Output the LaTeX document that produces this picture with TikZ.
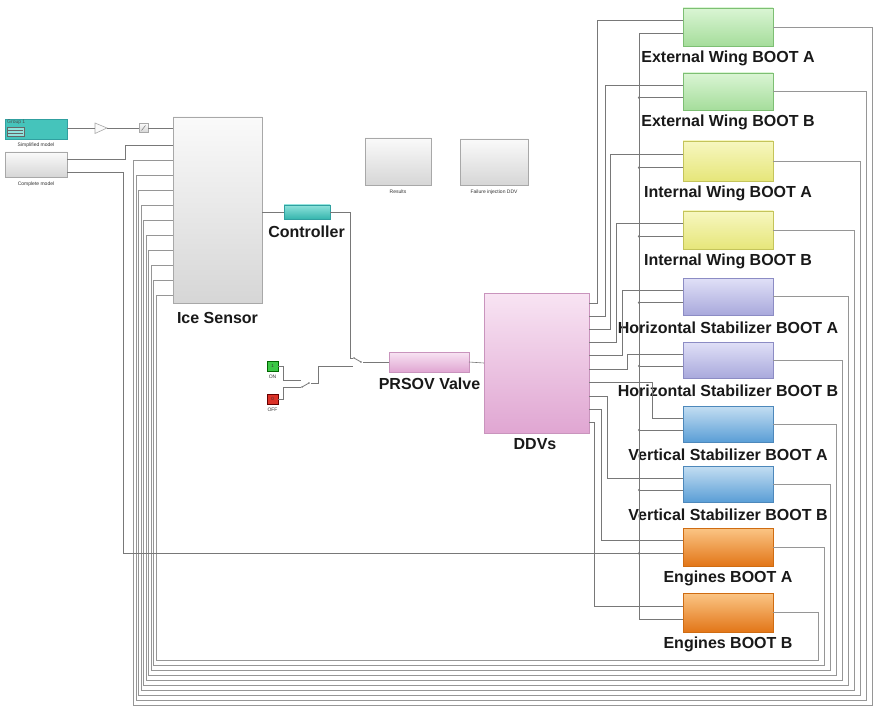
\documentclass[tikz,border=0pt]{standalone}
\usepackage{fontspec}
\setmainfont{Liberation Sans}
\usetikzlibrary{calc,shadings}

% block fills
\definecolor{wirecol}{RGB}{120,120,120}
\definecolor{fbcol}{RGB}{150,150,150}
\definecolor{grayT}{RGB}{250,250,250}\definecolor{grayB}{RGB}{214,214,214}\definecolor{grayD}{RGB}{168,168,168}
\definecolor{greenT}{RGB}{218,245,212}\definecolor{greenB}{RGB}{165,221,155}\definecolor{greenD}{RGB}{125,191,115}
\definecolor{yelT}{RGB}{247,247,192}\definecolor{yelB}{RGB}{230,230,122}\definecolor{yelD}{RGB}{196,196,90}
\definecolor{lavT}{RGB}{224,224,247}\definecolor{lavB}{RGB}{169,169,220}\definecolor{lavD}{RGB}{140,140,196}
\definecolor{bluT}{RGB}{196,222,242}\definecolor{bluB}{RGB}{90,158,214}\definecolor{bluD}{RGB}{77,136,187}
\definecolor{orT}{RGB}{251,197,133}\definecolor{orB}{RGB}{226,118,24}\definecolor{orD}{RGB}{207,108,18}
\definecolor{pinkT}{RGB}{248,228,243}\definecolor{pinkB}{RGB}{224,166,210}\definecolor{pinkD}{RGB}{201,148,189}
\definecolor{tealT}{RGB}{143,227,220}\definecolor{tealB}{RGB}{53,181,173}\definecolor{tealD}{RGB}{48,160,160}
\definecolor{tealF}{RGB}{69,196,187}
\definecolor{onG}{RGB}{60,200,70}\definecolor{offR}{RGB}{220,50,40}

\newcommand{\bbox}[6][]{%
  \node[blk,#1,anchor=north west,minimum width={#4-#2},minimum height={#5-#3}] (#6) at (#2,#3) {};}

\begin{document}
\begin{tikzpicture}[x=1pt,y=-1pt,
  blk/.style={draw,line width=0.6pt,inner sep=0pt,outer sep=0pt},
  bgray/.style={top color=grayT,bottom color=grayB,draw=grayD},
  bgreen/.style={top color=greenT,bottom color=greenB,draw=greenD},
  byellow/.style={top color=yelT,bottom color=yelB,draw=yelD},
  blav/.style={top color=lavT,bottom color=lavB,draw=lavD},
  bblue/.style={top color=bluT,bottom color=bluB,draw=bluD},
  borange/.style={top color=orT,bottom color=orB,draw=orD},
  bpink/.style={top color=pinkT,bottom color=pinkB,draw=pinkD},
  bteal/.style={top color=tealT,bottom color=tealB,draw=tealD},
  wire/.style={draw=wirecol,line width=0.6pt},
  fbwire/.style={draw=fbcol,line width=0.7pt},
  jdot/.style={circle,fill=wirecol,inner sep=0pt,minimum size=2.4pt},
  lbl/.style={font=\fontsize{16}{16}\selectfont\bfseries,text=black!90,inner sep=0pt},
  tiny/.style={font=\fontsize{5}{5}\selectfont,text=black!80,inner sep=0pt},
]
\useasboundingbox (0,0) rectangle (874,708);
\fill[white] (0,0) rectangle (874,708);

% ---------- source blocks ----------
\bbox[fill=tealF,draw=tealD]{5}{119}{67}{139}{sm}
\node[tiny,anchor=north west,text=black!70] (sm-name) at (7,120) {Group 1};
\draw[draw=black!60,fill=tealT,line width=0.3pt] (7,127) rectangle (24,136);
\draw[black!60,line width=0.3pt] (8,130) -- (23,130) (8,133) -- (23,133);
\node[tiny] (sm-lab) at (36,145.5) {Simplified model};
\coordinate (sm-out) at (67,128);

\bbox[bgray]{5}{152}{67}{177}{cm}
\node[tiny] (cm-lab) at (36,184) {Complete model};
\coordinate (cm-o1) at (67,159);
\coordinate (cm-o2) at (67,172);

% gain and slash block
\draw[draw=grayD,fill=grayT,line width=0.6pt] (95,123) -- (107,128) -- (95,133.5) -- cycle;
\coordinate (gain-in) at (95,128);
\coordinate (gain-out) at (107,128);
\node[blk,bgray,minimum width=9,minimum height=9] (sat) at (143.5,128) {};
\draw[black!55,line width=0.5pt] ($(sat.south west)+(2.5,-2)$) -- ($(sat.north east)+(-2.5,2)$);

% ---------- ice sensor / controller ----------
\bbox[bgray]{173}{117}{262}{303}{ice}
\node[lbl] (ice-lab) at (217.5,318) {Ice Sensor};
\coordinate (ice-in1) at (173,128);
\coordinate (ice-in2) at (173,145);
\coordinate (ice-out) at (262,212);

\bbox[bteal]{284}{205}{330}{219}{ctl}
\node[lbl] (ctl-lab) at (306.5,232) {Controller};

\bbox[bgray]{365}{138}{431}{185}{res}
\node[tiny] (res-lab) at (398,192) {Results};
\bbox[bgray]{460}{139}{528}{185}{fail}
\node[tiny] (fail-lab) at (494,192) {Failure injection DDV};

\draw[wire] (sm-out) -- (gain-in);
\draw[wire] (gain-out) -- (sat.west);
\draw[wire] (sat.east) -- (ice-in1);
\draw[wire] (cm-o1) -- ++(58,0) |- (ice-in2);
\draw[wire] (ice-out) -- (ctl.west);

% ---------- ON / OFF and manual switches ----------
\bbox[fill=onG,draw=green!40!black]{267}{361}{278}{371}{on}
\node[tiny,font=\fontsize{4.5}{4.5}\selectfont] (on-val) at (on.center) {1};
\node[tiny] (on-lab) at (272.5,376.5) {ON};
\bbox[fill=offR,draw=red!40!black]{267}{394}{278}{404}{off}
\node[tiny,font=\fontsize{4.5}{4.5}\selectfont] (off-val) at (off.center) {0};
\node[tiny] (off-lab) at (272.5,409.5) {OFF};

\coordinate (sw1-in1) at (301,380);
\coordinate (sw1-in2) at (301,387);
\coordinate (sw1-out) at (311,383);
\draw[wirecol,line width=0.8pt] (302,387) -- (309,383);
\fill[wirecol] (302,387) circle (0.9) (309,383) circle (0.9);
\draw[wire] (on.east) -- ++(5,0) |- (sw1-in1);
\draw[wire] (off.east) -- ++(5,0) |- (sw1-in2);

\coordinate (sw2-in1) at (353,358);
\coordinate (sw2-in2) at (353,366);
\coordinate (sw2-out) at (363,362);
\draw[wirecol,line width=0.8pt] (354,358) -- (361,362);
\fill[wirecol] (354,358) circle (0.9) (361,362) circle (0.9);
\draw[wire] (sw1-out) -- ++(7,0) |- (sw2-in2);
\draw[wire] (ctl.east) -- ++(20,0) |- (sw2-in1);

% ---------- valve and DDVs ----------
\bbox[bpink]{389}{352}{469}{372}{prs}
\node[lbl] (prs-lab) at (429.5,384) {PRSOV Valve};
\draw[wire] (sw2-out) -- (prs.west);

\bbox[bpink]{484}{293}{589}{433}{ddv}
\node[lbl] (ddv-lab) at (535,444) {DDVs};
\draw[wire] (prs.east) -- (ddv.west);
\foreach \i/\yy in {1/303,2/316,3/329,4/342,5/355,6/369,7/382,8/396,9/409,10/422}
  \coordinate (ddv-o\i) at (589,\yy);

% ---------- boots, with their returns to the ice sensor ----------
\foreach \nm/\ya/\yb/\sty/\txt [count=\k from 0] in {
  ewA/8/46/bgreen/External Wing BOOT A,
  ewB/73/110/bgreen/External Wing BOOT B,
  iwA/141/181/byellow/Internal Wing BOOT A,
  iwB/211/249/byellow/Internal Wing BOOT B,
  hsA/278/315/blav/Horizontal Stabilizer BOOT A,
  hsB/342/378/blav/Horizontal Stabilizer BOOT B,
  vsA/406/442/bblue/Vertical Stabilizer BOOT A,
  vsB/466/502/bblue/Vertical Stabilizer BOOT B,
  enA/528/566/borange/Engines BOOT A,
  enB/593/632/borange/Engines BOOT B}{
  \node[blk,\sty,anchor=north west,minimum width=90,minimum height={\yb-\ya}] (\nm) at (683,\ya) {};
  \node[lbl] (\nm-lab) at (728,\yb+12.5) {\txt};
  \coordinate (\nm-in1) at ($(\nm.north west)!1/3!(\nm.south west)$);
  \coordinate (\nm-in2) at ($(\nm.north west)!2/3!(\nm.south west)$);
  \coordinate (\nm-out) at (\nm.east);
  \pgfmathsetmacro\xr{872-6*\k}
  \pgfmathsetmacro\ybot{705-5*\k}
  \pgfmathsetmacro\xl{133.5+2.5*\k}
  \pgfmathsetmacro\yin{160+15*\k}
  \coordinate (ice-fb\k) at (173,\yin);
  \draw[fbwire] (\nm-out) -| (\xr,\ybot) -| (\xl,\yin) -- (ice-fb\k);
}

% DDV commands to the first input of each boot
\draw[wire] (ddv-o1) -- ++(8,0) |- (ewA-in1);
\draw[wire] (ddv-o2) -- ++(16,0) |- (ewB-in1);
\draw[wire] (ddv-o3) -- ++(21,0) |- (iwA-in1);
\draw[wire] (ddv-o4) -- ++(27,0) |- (iwB-in1);
\draw[wire] (ddv-o5) -- ++(33,0) |- (hsA-in1);
\draw[wire] (ddv-o6) -- ++(38,0) |- (hsB-in1);
\draw[wire] (ddv-o7) -- ++(63,0) |- (vsA-in1);
\draw[wire] (ddv-o8) -- ++(18,0) |- (vsB-in1);
\draw[wire] (ddv-o9) -- ++(12,0) |- (enA-in1);
\draw[wire] (ddv-o10) -- ++(5,0) |- (enB-in1);

% complete-model signal shared by the second input of every boot
\draw[wire] (cm-o2) -- ++(56,0) |- (enA-in2);
\draw[wire] (ewA-in2) -- ++(-44,0) coordinate (bus-top) |- (enB-in2);
\foreach \nm in {ewB,iwA,iwB,hsA,hsB,vsA,vsB}
  \draw[wire] (\nm-in2) -- ++(-44,0) node[jdot] (dot-\nm) {};
\node[jdot] (dot-enA) at (enA-in2 -| bus-top) {};
\end{tikzpicture}
\end{document}
